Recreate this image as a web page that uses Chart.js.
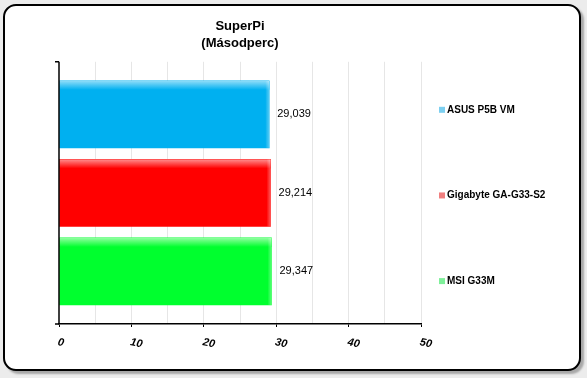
<!DOCTYPE html>
<html><head><meta charset="utf-8">
<script src="https://cdn.jsdelivr.net/npm/chart.js@4/dist/chart.umd.min.js"></script>
<style>
html,body{margin:0;padding:0;background:#ececec;width:587px;height:378px;overflow:hidden;}
#frame{position:absolute;left:3px;top:4px;width:578px;height:367px;box-sizing:border-box;border:2px solid #000;border-radius:13px;background:#fff;box-shadow:3px 3px 2px #a8a8a8;}
#c{position:absolute;left:0;top:0;}
</style></head>
<body>
<div id="frame"></div>
<canvas id="c" width="587" height="378"></canvas>
<script>
const categories = ['ASUS P5B VM', 'Gigabyte GA-G33-S2', 'MSI G33M'];
const values = [29.039, 29.214, 29.347];
const barColors = ['#00b0f0', '#ff0000', '#00ff2e'];
const barHighlights = ['#8fdcf8', '#ff8f8f', '#8fff9f'];
const legendColors = ['#7ccff0', '#f07f7f', '#7ff09a'];
const xTicks = [0, 10, 20, 30, 40, 50];
const titleLines = ['SuperPi', '(Másodperc)'];
const FONT = '"Liberation Sans", Arial, sans-serif';

const decor = {
  id: 'decor',
  afterDatasetsDraw(chart) {
    const ctx = chart.ctx;
    const meta = chart.getDatasetMeta(0);
    meta.data.forEach((bar, i) => {
      const p = bar.getProps(['x', 'y', 'base', 'height'], true);
      const top = p.y - p.height / 2;
      const g = ctx.createLinearGradient(0, top, 0, top + 9);
      g.addColorStop(0, barHighlights[i]);
      g.addColorStop(1, barColors[i]);
      ctx.save();
      ctx.fillStyle = g;
      ctx.fillRect(p.base, top, p.x - p.base, 9);
      const g2 = ctx.createLinearGradient(p.x - 4, 0, p.x, 0);
      g2.addColorStop(0, 'rgba(255,255,255,0)');
      g2.addColorStop(1, 'rgba(255,255,255,0.35)');
      ctx.fillStyle = g2;
      ctx.fillRect(p.x - 4, top, 4, p.height);
      ctx.fillStyle = '#000';
      ctx.font = '11px ' + FONT;
      ctx.textBaseline = 'middle';
      ctx.textAlign = 'left';
      ctx.fillText(values[i].toFixed(3).replace('.', ','), p.x + 8, p.y);
      ctx.restore();
    });
  },
  afterDraw(chart) {
    const ctx = chart.ctx;
    const a = chart.chartArea;
    const xs = chart.scales.x;
    ctx.save();
    ctx.strokeStyle = '#000';
    ctx.lineWidth = 1.5;
    ctx.beginPath();
    ctx.moveTo(a.left, a.top); ctx.lineTo(a.left, a.bottom);
    ctx.moveTo(a.left - 4, a.top); ctx.lineTo(a.left, a.top);
    ctx.moveTo(a.left - 4, a.bottom); ctx.lineTo(a.left, a.bottom);
    ctx.stroke();
    ctx.fillStyle = '#000';
    ctx.font = 'italic bold 11px ' + FONT;
    ctx.textAlign = 'left';
    ctx.textBaseline = 'middle';
    xTicks.forEach(v => {
      const x = xs.getPixelForValue(v);
      ctx.save();
      ctx.translate(x - 1, a.bottom + 18);
      ctx.rotate(12 * Math.PI / 180);
      ctx.fillText(String(v), 0, 0);
      ctx.restore();
    });
    ctx.font = 'bold 10px ' + FONT;
    const step = (a.bottom - a.top) / 3 * 0.98;
    categories.forEach((c, i) => {
      const y = a.top + 48 + i * step;
      ctx.fillStyle = legendColors[i];
      ctx.fillRect(439, y - 3, 6, 6);
      ctx.fillStyle = '#000';
      ctx.fillText(c, 447, y);
    });
    ctx.restore();
  }
};

new Chart(document.getElementById('c'), {
  type: 'bar',
  data: {
    labels: categories,
    datasets: [{
      data: values.map((v, i) => ({ x: v, y: i })),
      backgroundColor: barColors,
      borderWidth: 0,
      barThickness: 67
    }]
  },
  options: {
    indexAxis: 'y',
    responsive: false,
    animation: false,
    events: [],
    layout: { padding: { left: 59, right: 166, top: 18, bottom: 51 } },
    plugins: {
      legend: { display: false },
      tooltip: { enabled: false },
      title: {
        display: true,
        text: titleLines,
        color: '#000',
        font: { family: FONT, size: 13, weight: 'bold', lineHeight: 1.3 },
        padding: { top: 0, bottom: 10 }
      }
    },
    scales: {
      x: {
        type: 'linear',
        min: 0, max: 50,
        ticks: { display: false, stepSize: 5 },
        grid: {
          color: ctx => (ctx.tick && ctx.tick.value === 0) ? 'rgba(0,0,0,0)' : '#e6e6e6',
          tickColor: ctx => (ctx.tick && ctx.tick.value % 10 === 0) ? '#000' : 'rgba(0,0,0,0)',
          tickLength: 3,
          lineWidth: 1
        },
        border: { display: true, color: '#000', width: 1.5 }
      },
      y: { type: 'linear', display: false, reverse: true, offset: false, min: -0.669, max: 2.669 }
    }
  },
  plugins: [decor]
});
</script>
</body></html>
